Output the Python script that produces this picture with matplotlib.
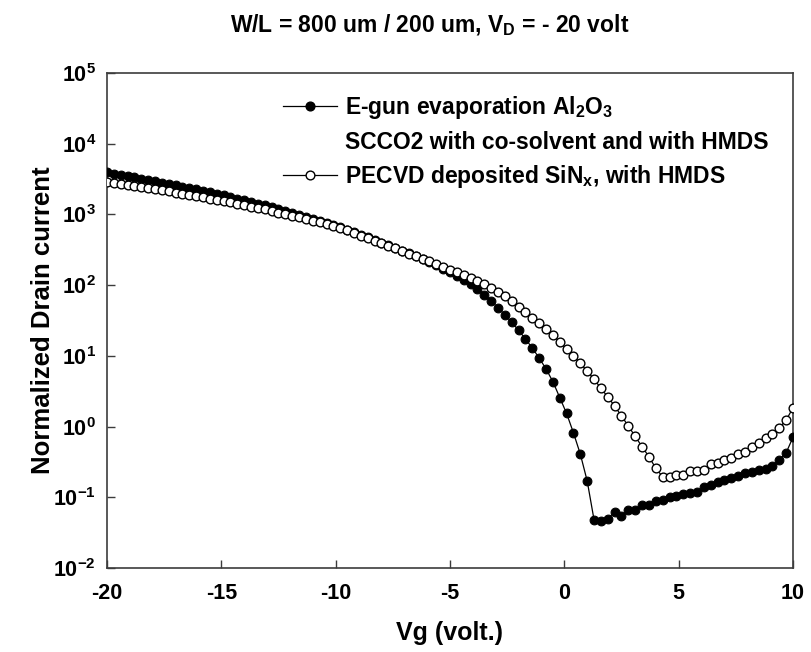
import numpy as np
import matplotlib
matplotlib.use("Agg")
import matplotlib.pyplot as plt
from matplotlib.lines import Line2D
from matplotlib.ticker import FixedLocator, FuncFormatter

plt.rcParams["font.family"] = ["Liberation Sans", "DejaVu Sans"]
plt.rcParams["font.weight"] = "bold"
plt.rcParams["mathtext.fontset"] = "custom"
plt.rcParams["mathtext.rm"] = "Liberation Sans:bold"
plt.rcParams["mathtext.bf"] = "Liberation Sans:bold"
plt.rcParams["mathtext.it"] = "Liberation Sans:bold"
plt.rcParams["axes.unicode_minus"] = False

# gate voltage sweep, -20 V to 10 V in 0.3 V steps
vg = np.linspace(-20, 10, 101)

# log10 of normalized drain current, E-gun Al2O3 dielectric (SCCO2 + co-solvent, HMDS)
log_id_al2o3 = [
    3.596, 3.578, 3.560, 3.542, 3.524, 3.506, 3.488, 3.469, 3.450, 3.431,
    3.412, 3.393, 3.373, 3.353, 3.333, 3.313, 3.292, 3.271, 3.248, 3.225,
    3.201, 3.177, 3.152, 3.127, 3.101, 3.075, 3.048, 3.021, 2.993, 2.965,
    2.936, 2.907, 2.877, 2.847, 2.816, 2.782, 2.747, 2.712, 2.676, 2.640,
    2.603, 2.565, 2.527, 2.488, 2.448, 2.407, 2.365, 2.322, 2.278, 2.232,
    2.184, 2.133, 2.078, 2.018, 1.945, 1.862, 1.776, 1.680, 1.580, 1.475,
    1.360, 1.240, 1.110, 0.970, 0.815, 0.635, 0.410, 0.185, -0.090, -0.390,
    -0.770, -1.320, -1.330, -1.300, -1.210, -1.270, -1.180, -1.180, -1.110, -1.110,
    -1.050, -1.040, -1.000, -0.980, -0.958, -0.940, -0.920, -0.860, -0.830, -0.790,
    -0.760, -0.730, -0.700, -0.660, -0.640, -0.610, -0.600, -0.558, -0.473, -0.370,
    -0.152,
]

# log10 of normalized drain current, PECVD SiNx dielectric (HMDS)
log_id_sinx = [
    3.454, 3.441, 3.428, 3.414, 3.400, 3.386, 3.371, 3.356, 3.341, 3.325,
    3.309, 3.293, 3.276, 3.259, 3.242, 3.224, 3.206, 3.188, 3.169, 3.150,
    3.131, 3.111, 3.091, 3.070, 3.049, 3.027, 3.005, 2.983, 2.960, 2.937,
    2.913, 2.889, 2.864, 2.839, 2.810, 2.774, 2.738, 2.702, 2.666, 2.630,
    2.594, 2.557, 2.520, 2.483, 2.446, 2.409, 2.372, 2.335, 2.297, 2.259,
    2.221, 2.182, 2.142, 2.101, 2.058, 2.013, 1.960, 1.905, 1.845, 1.775,
    1.695, 1.620, 1.540, 1.458, 1.373, 1.288, 1.198, 1.095, 0.998, 0.895,
    0.783, 0.670, 0.540, 0.420, 0.290, 0.150, 0.008, -0.140, -0.285, -0.426,
    -0.590, -0.710, -0.710, -0.685, -0.685, -0.625, -0.625, -0.615, -0.530, -0.510,
    -0.473, -0.450, -0.388, -0.360, -0.285, -0.230, -0.167, -0.100, -0.016, 0.090,
    0.266,
]

x_ticks = [-20, -15, -10, -5, 0, 5, 10]
y_exponents = [-2, -1, 0, 1, 2, 3, 4, 5]

id_al2o3 = np.power(10.0, log_id_al2o3)
id_sinx = np.power(10.0, log_id_sinx)

fig = plt.figure(figsize=(8.11, 6.52), dpi=100)
ax = fig.add_axes([107 / 811, 1 - 568 / 652, 686 / 811, 495 / 652])

spine_col = "#3c3c3c"
ms = 6.3
ax.plot(vg, id_al2o3, color="black", lw=0.9, marker="o", ms=ms,
        mfc="black", mec="black", mew=0.8, zorder=3)
ax.plot(vg, id_sinx, color="black", lw=0.9, marker="o", ms=ms,
        mfc="white", mec="black", mew=1.0, zorder=4)

ax.set_yscale("log")
ax.set_xlim(-20, 10)
ax.set_ylim(1e-2, 1e5)
ax.xaxis.set_major_locator(FixedLocator(x_ticks))
ax.yaxis.set_major_locator(FixedLocator([10.0 ** e for e in y_exponents]))
ax.yaxis.set_minor_locator(FixedLocator([]))
ax.yaxis.set_major_formatter(
    FuncFormatter(lambda v, p: r"$\mathbf{10^{%d}}$" % int(round(np.log10(v)))))
ax.xaxis.set_major_formatter(FuncFormatter(lambda v, p: "%d" % v))

for s in ax.spines.values():
    s.set_color(spine_col)
    s.set_linewidth(1.2)
ax.tick_params(axis="both", direction="in", length=6, width=1.0,
               color=spine_col, labelsize=15.5, top=False, right=False)
ax.tick_params(axis="x", pad=11)
ax.tick_params(axis="y", pad=8)

ax.set_xlabel("Vg (volt.)", fontsize=18, fontweight="bold")
ax.set_ylabel("Normalized Drain current", fontsize=18.5, fontweight="bold")
ax.xaxis.set_label_coords(0.5, -0.107)
ax.yaxis.set_label_coords(-0.076, 0.5)

fig.text(430 / 811, 1 - 32 / 652, r"W/L = 800 um / 200 um, V$_\mathbf{D}$ = - 20 volt",
         ha="center", va="baseline", fontsize=16.5, fontweight="bold")

h_al = Line2D([], [], color="black", lw=0.9, marker="o", ms=ms,
              mfc="black", mec="black")
h_blank = Line2D([], [], color="none")
h_si = Line2D([], [], color="black", lw=0.9, marker="o", ms=ms,
              mfc="white", mec="black")
leg = ax.legend(
    [h_al, h_blank, h_si],
    [r"E-gun evaporation Al$_\mathbf{2}$O$_\mathbf{3}$",
     "SCCO2 with co-solvent and with HMDS",
     r"PECVD deposited SiN$_\mathbf{x}$, with HMDS"],
    loc="upper left", bbox_to_anchor=(283 / 811, 1 - 94 / 652),
    bbox_transform=fig.transFigure, frameon=False, fontsize=16.5,
    handlelength=2.35, handletextpad=0.35, labelspacing=0.42,
    borderpad=0, borderaxespad=0)

fig.savefig("out.png", dpi=100)
